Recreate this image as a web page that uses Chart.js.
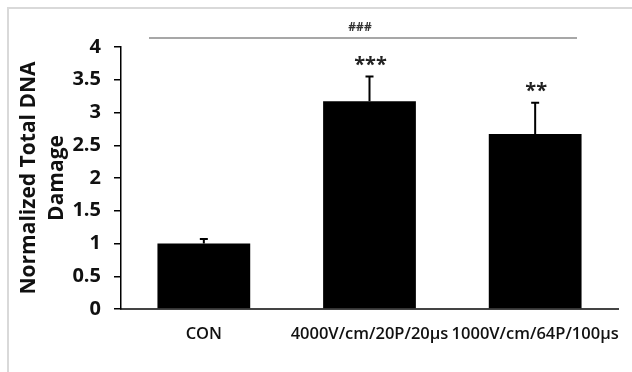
<!DOCTYPE html>
<html>
<head>
<meta charset="utf-8">
<script src="https://cdn.jsdelivr.net/npm/chart.js@4.4.0/dist/chart.umd.min.js"></script>
<style>
  html, body { margin: 0; padding: 0; background: #fff; }
  canvas { display: block; }
</style>
</head>
<body>
<canvas id="dnaChart" width="632" height="372"></canvas>
<script>
// data
const categories = ['CON', '4000V/cm/20P/20\u00b5s', '1000V/cm/64P/100\u00b5s'];
const damage = [1.0, 3.17, 2.67];
const damageErr = [0.07, 0.38, 0.48];
const stars = ['', '***', '**'];
const groupMark = '###';

// error bars, significance marks and the frame
const extrasPlugin = {
    id: 'extras',
    beforeDraw(chart) {
        const ctx = chart.ctx;
        ctx.save();
        ctx.strokeStyle = '#d9d9d9';
        ctx.lineWidth = 2;
        ctx.beginPath();
        ctx.moveTo(8, chart.height + 5);
        ctx.lineTo(8, 8);
        ctx.lineTo(chart.width + 5, 8);
        ctx.stroke();
        ctx.restore();
    },
    afterDatasetsDraw(chart) {
        const ctx = chart.ctx;
        const yScale = chart.scales.y;
        const area = chart.chartArea;
        const bars = chart.getDatasetMeta(0).data;
        ctx.save();
        bars.forEach((bar, i) => {
            const topY = yScale.getPixelForValue(damage[i] + damageErr[i]);
            ctx.strokeStyle = '#000';
            ctx.lineWidth = 2;
            ctx.beginPath();
            ctx.moveTo(bar.x, bar.y);
            ctx.lineTo(bar.x, topY);
            ctx.moveTo(bar.x - 4, topY);
            ctx.lineTo(bar.x + 4, topY);
            ctx.stroke();
            if (stars[i]) {
                ctx.fillStyle = '#222';
                ctx.font = 'bold 20px "Open Sans"';
                ctx.textAlign = 'center';
                ctx.textBaseline = 'middle';
                ctx.fillText(stars[i], bar.x + 1, topY - 11);
            }
        });
        // overall comparison line
        const x1 = area.left + 28;
        const x2 = area.right - 41;
        const lineY = area.top - 9;
        ctx.strokeStyle = '#8a8a8a';
        ctx.lineWidth = 1.5;
        ctx.beginPath();
        ctx.moveTo(x1, lineY);
        ctx.lineTo(x2, lineY);
        ctx.stroke();
        ctx.fillStyle = '#333';
        ctx.font = 'bold 12px "Open Sans"';
        ctx.textAlign = 'center';
        ctx.textBaseline = 'middle';
        ctx.fillText(groupMark, (x1 + x2) / 2 - 3, lineY - 10);
        ctx.restore();
    }
};

new Chart(document.getElementById('dnaChart'), {
    type: 'bar',
    data: {
        labels: categories,
        datasets: [{
            data: damage,
            backgroundColor: '#000',
            borderWidth: 0,
            categoryPercentage: 1,
            barPercentage: 0.56
        }]
    },
    options: {
        responsive: false,
        animation: false,
        layout: { padding: { top: 47, right: 14, bottom: 0, left: 0 } },
        plugins: {
            legend: { display: false },
            tooltip: { enabled: false }
        },
        scales: {
            x: {
                grid: { display: false },
                border: { display: true, color: '#444', width: 2 },
                ticks: {
                    color: '#111',
                    padding: 7,
                    maxRotation: 0,
                    autoSkip: false,
                    font: { family: 'Open Sans', size: 16.5, weight: '600' }
                },
                afterFit(scale) { scale.height = 63; }
            },
            y: {
                min: 0,
                max: 4,
                ticks: {
                    stepSize: 0.5,
                    color: '#111',
                    padding: 13,
                    font: { family: 'Open Sans', size: 20, weight: 'bold' },
                    callback: (value) => String(value)
                },
                grid: {
                    display: true,
                    drawOnChartArea: false,
                    drawTicks: true,
                    tickLength: 7,
                    color: '#000',
                    lineWidth: 1.5
                },
                border: { display: true, color: '#000', width: 1.5 },
                title: {
                    display: true,
                    text: ['Normalized Total DNA', 'Damage'],
                    color: '#111',
                    padding: { top: 15, bottom: 0 },
                    font: { family: 'Open Sans', size: 21, weight: 'bold', lineHeight: '28px' }
                },
                afterFit(scale) { scale.width = 121; }
            }
        }
    },
    plugins: [extrasPlugin]
});
</script>
</body>
</html>
